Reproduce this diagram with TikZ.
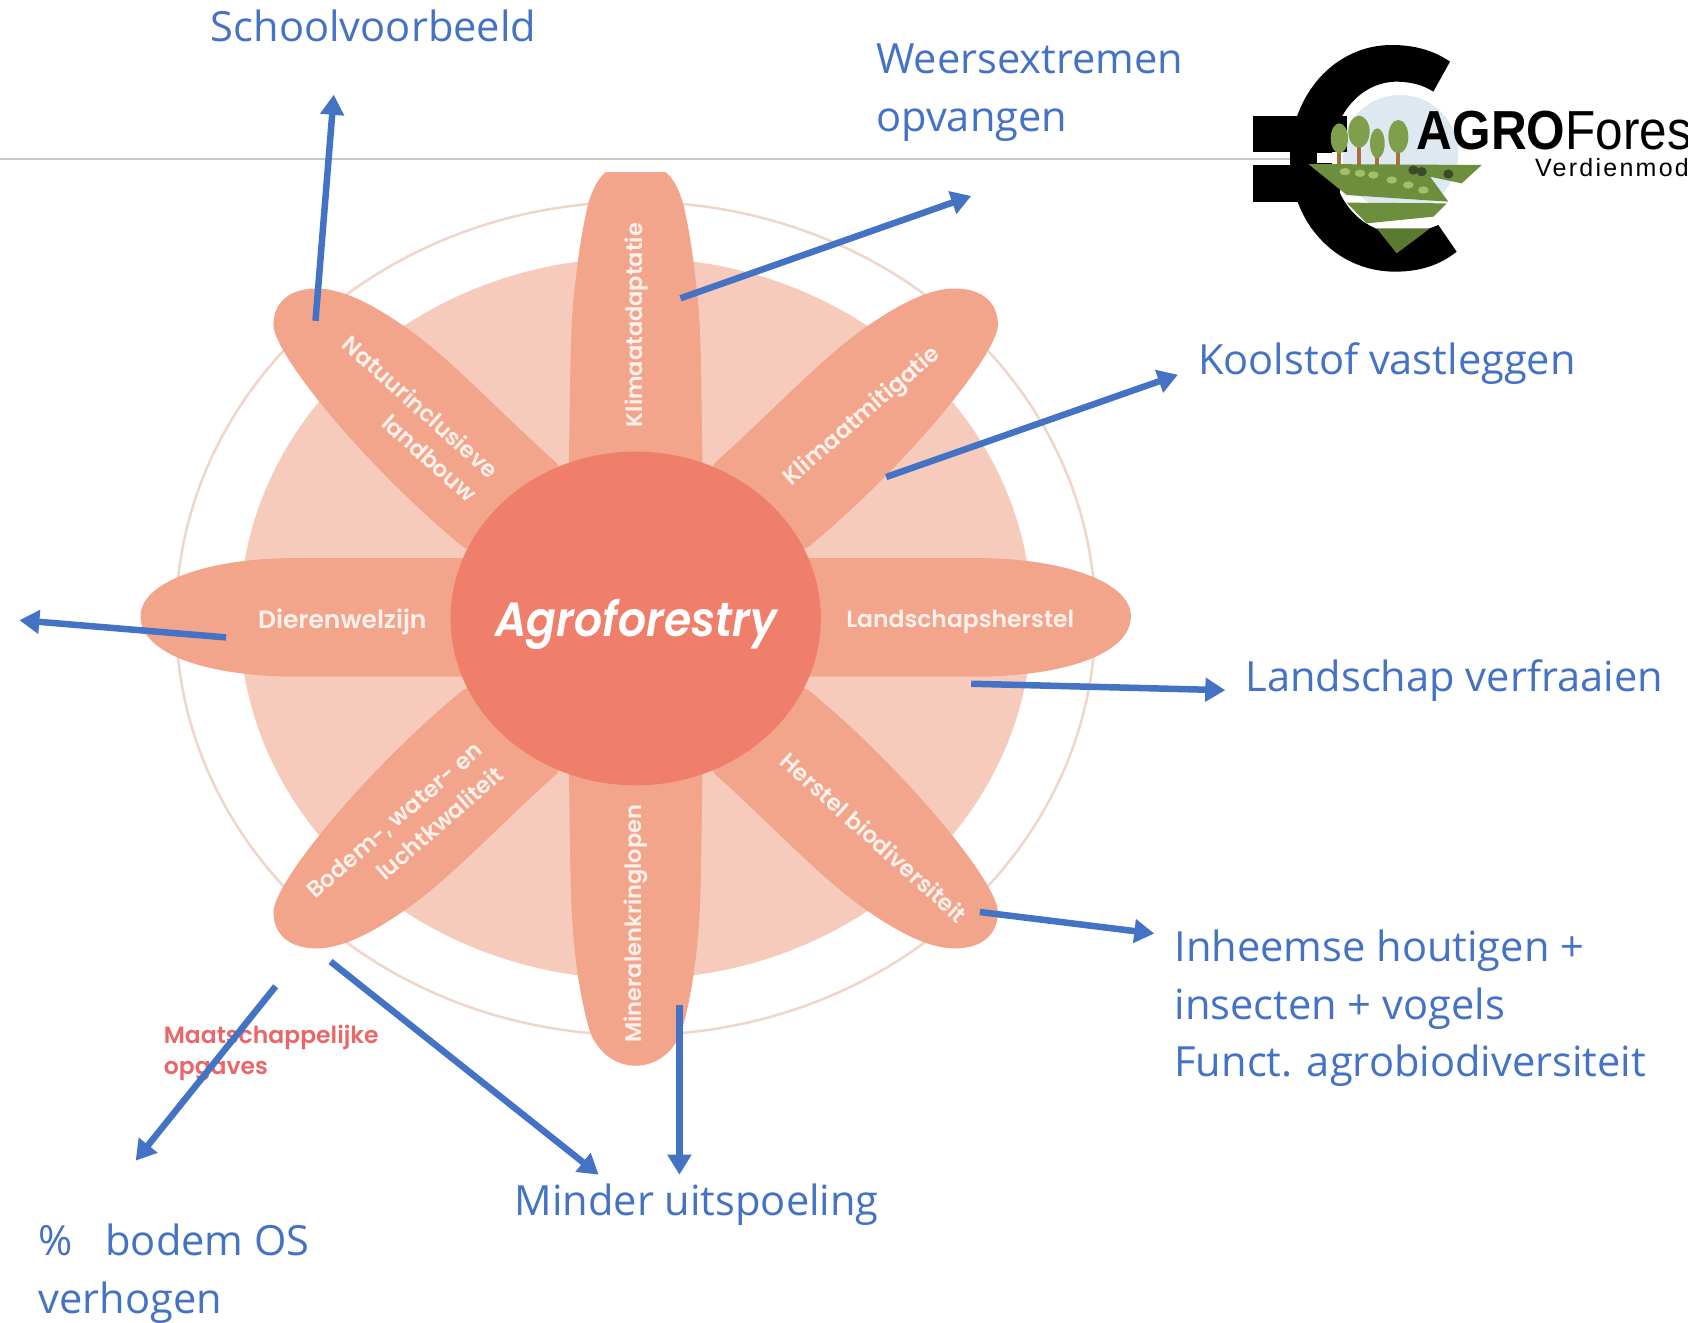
\documentclass[tikz,border=0pt]{standalone}
\usepackage{fontspec}
\usetikzlibrary{arrows.meta}
\setmainfont{Open Sans}
\newfontfamily\petalfont[UprightFont=* SemiBold,ItalicFont=* SemiBold Italic]{Poppins}
\newfontfamily\logofont{Liberation Sans}
\definecolor{lblblue}{HTML}{4472C4}
\definecolor{arrowblue}{HTML}{4472C4}
\definecolor{discpale}{HTML}{F6CBBB}
\definecolor{ringpale}{HTML}{F0D5CB}
\definecolor{petalsalmon}{HTML}{F3A58C}
\definecolor{hubsalmon}{HTML}{EF7E6B}
\definecolor{maatred}{HTML}{E8686A}
\definecolor{skypale}{HTML}{DDE8F1}
\definecolor{treegreen}{HTML}{7F9F4C}
\definecolor{trunkbrown}{HTML}{AC6D3E}
\definecolor{landgreen}{HTML}{6C8E3D}
\definecolor{shrubgreen}{HTML}{A3BF68}
\definecolor{darkshrub}{HTML}{3D4A2A}
\definecolor{petalwhite}{HTML}{FDF1EC}
\tikzset{
  arrowline/.style={draw=arrowblue,line width=6.5pt,-{Triangle[length=20pt,width=23pt]}},
  lbl/.style={text=lblblue,font=\fontsize{41.6}{57.6}\selectfont,inner sep=0pt,outer sep=0pt,align=left},
  petaltext/.style={text=petalwhite,font=\petalfont\fontsize{23}{32}\selectfont,inner sep=0pt,align=right},
  vpetaltext/.style={petaltext,font=\petalfont\fontsize{22.5}{30}\selectfont},
  hpetaltext/.style={petaltext,font=\petalfont\fontsize{23.5}{30}\selectfont},
}
\newcommand\diagonalpetal{(-73.5,-144.5) .. controls (-130,-195) and (-175,-245) .. (-219.5,-274.5) .. controls (-250,-295) and (-275,-306.5) .. (-296.5,-306.5) .. controls (-320,-306.5) and (-336.5,-295) .. (-336.5,-272.5) .. controls (-336,-245) and (-250,-140) .. (-160.5,-66.5) -- (0,0) -- cycle}
\newcommand\sidepetal{(0,-56) -- (-324,-56) .. controls (-395,-55) and (-460,-35) .. (-460,-2) .. controls (-460,32) and (-400,56) .. (-300,54) -- (0,54) -- cycle}
\begin{document}
\begin{tikzpicture}[x=1pt,y=-1pt]
\useasboundingbox (0,0) rectangle (1688,1322);
\fill[white] (0,0) rectangle (1688,1322);
\draw[color=black!22,line width=2pt] (0,159) -- (1290,159);
\begin{scope}[scale=1.0765]
  \fill[discpale] (590.5,574.5) ellipse [x radius=368,y radius=335];
  \draw[ringpale,line width=2.5pt] (590.5,574.5) ellipse [x radius=427,y radius=387];
  \foreach \sx/\sy in {1/1,-1/1,1/-1,-1/-1}{
    \fill[petalsalmon,shift={(590.5,574.5)},xscale=\sx,yscale=\sy] \diagonalpetal;
  }
  \foreach \sx in {1,-1}{
    \fill[petalsalmon,shift={(590.5,574.5)},xscale=\sx] \sidepetal;
  }
  \begin{scope}[shift={(590.5,574.5)}]
    \fill[petalsalmon] (-62,0) -- (-62,-147) .. controls (-61,-200) and (-61,-240) .. (-59.5,-271.5) .. controls (-58,-300) and (-55,-320) .. (-53.5,-333) .. controls (-51,-352) and (-48,-368) .. (-45.5,-379.5) .. controls (-42,-395) and (-36,-408) .. (-28,-414.5) -- (28,-414.5) .. controls (36,-408) and (42,-395) .. (45.5,-379.5) .. controls (48,-368) and (51,-352) .. (53.5,-333) .. controls (55,-320) and (58,-300) .. (59.5,-271.5) .. controls (61,-240) and (61,-200) .. (62,-147) -- (62,0) -- cycle;
    \fill[petalsalmon] (-62,0) -- (-62,147) .. controls (-61,200) and (-61,240) .. (-59.5,271.5) .. controls (-57,320) and (-50,360) .. (-42,385) .. controls (-33,407) and (-15,415.5) .. (0,415.5) .. controls (15,415.5) and (33,407) .. (42,385) .. controls (50,360) and (57,320) .. (59.5,271.5) .. controls (61,240) and (61,200) .. (62,147) -- (62,0) -- cycle;
  \end{scope}
  \fill[hubsalmon] (590.5,574.5) ellipse [x radius=172,y radius=155];
  \node[anchor=base,text=white,inner sep=0pt,font=\petalfont\itshape\fontsize{48}{50}\selectfont] (hub) at (591,591) {\scalebox{0.92}[1]{Agroforestry}};
  \node[vpetaltext,rotate=90] (klimaatadaptatie) at (591,302) {Klimaatadaptatie};
  \node[petaltext,rotate=41] (klimaatmitigatie) at (801,387) {Klimaatmitigatie};
  \node[hpetaltext] (landschapsherstel) at (892,578) {Landschapsherstel};
  \node[petaltext,rotate=-42] (herstel) at (812,778) {Herstel biodiversiteit};
  \node[vpetaltext,rotate=90] (mineralen) at (591,858) {Mineralenkringlopen};
  \node[petaltext,rotate=41] (bodem) at (376,773) {Bodem-, water- en\\luchtkwaliteit};
  \node[hpetaltext,font=\petalfont\fontsize{25}{30}\selectfont] (dierenwelzijn) at (318,578) {Dierenwelzijn};
  \node[petaltext,rotate=-42] (natuur) at (381,389) {Natuurinclusieve\\landbouw};
  \node[anchor=north west,text=maatred,inner sep=0pt,align=left,font=\petalfont\fontsize{23.5}{31}\selectfont] (maat) at (152,952) {Maatschappelijke\\opgaves};

  \coordinate (a1s) at (293,298); \coordinate (a1e) at (310,88);
  \coordinate (a2s) at (632,277); \coordinate (a2e) at (902,182);
  \coordinate (a3s) at (823,443); \coordinate (a3e) at (1094,348);
  \coordinate (a4s) at (902,635); \coordinate (a4e) at (1138,641);
  \coordinate (a5s) at (910,847); \coordinate (a5e) at (1072,867);
  \coordinate (a6s) at (631,933); \coordinate (a6e) at (631,1091);
  \coordinate (a7s) at (307,893); \coordinate (a7e) at (556,1091);
  \coordinate (a8s) at (256,916); \coordinate (a8e) at (126,1078);
  \coordinate (a9s) at (210,592); \coordinate (a9e) at (18,576);
  \foreach \n in {1,...,9}{ \draw[arrowline] (a\n s) -- (a\n e); }

  \node[lbl,anchor=base west] (school) at (196,39) {Schoolvoorbeeld};
  \node[lbl,anchor=north west] (weer) at (814,41) {Weersextremen\\opvangen};
  \node[lbl,anchor=base west] (kool) at (1113,348) {Koolstof vastleggen};
  \node[lbl,anchor=base west] (land) at (1157,642) {Landschap verfraaien};
  \node[lbl,anchor=north west] (inh) at (1091,864) {Inheemse houtigen +\\insecten + vogels\\Funct. agrobiodiversiteit};
  \node[lbl,anchor=base west] (minder) at (478,1129) {Minder uitspoeling};
  \node[lbl,anchor=north west] (pct) at (36,1137) {\%\ \ \ bodem OS\\verhogen};
\end{scope}
% logo, in crop coordinates
\begin{scope}[shift={(1200,20)},scale=1/3]
  \fill[skypale] (600,400) circle (175);
  \fill[black] (160,287) rectangle (440,395);
  \fill[black] (160,435) rectangle (420,545);
  \fill[black] (750,125) .. controls (700,90) and (640,75) .. (575,75) .. controls (400,75) and (270,230) .. (270,415) .. controls (270,610) and (410,755) .. (585,755) .. controls (660,755) and (720,735) .. (770,695) -- (715,615) .. controls (680,630) and (640,640) .. (600,640) .. controls (480,640) and (395,530) .. (395,410) .. controls (395,290) and (480,185) .. (590,185) .. controls (630,185) and (670,195) .. (700,215) -- cycle;
  \fill[white] (160,398) rectangle (245,435);
  \fill[white] (350,400) rectangle (430,430);
  \draw[color=black!22,line width=2pt] (160,417) -- (245,417);
  \foreach \tx/\ty/\trx/\try in {418/355/26/45,477/335/32/48,532/370/22/45,595/350/30/50}{
    \fill[trunkbrown] (\tx-6,\ty) rectangle (\tx+6,440);
    \fill[treegreen] (\tx,\ty) ellipse [x radius=\trx,y radius=\try];
  }
  \fill[landgreen] (325,432) -- (845,435) -- (785,490) -- (690,470) -- (745,545) -- (440,525) -- cycle;
  \fill[landgreen] (440,548) -- (740,550) -- (700,590) -- (500,610) -- cycle;
  \fill[landgreen!85!black] (530,625) -- (690,625) -- (590,700) -- cycle;
  \foreach \kx/\ky in {435/455,480/460,520/465,575/480,625/495,670/510}{
    \fill[shrubgreen] (\kx,\ky) ellipse [x radius=16,y radius=11];
  }
  \foreach \kx/\ky in {640/450,665/455,745/462}{
    \fill[darkshrub] (\kx,\ky) ellipse [x radius=15,y radius=14];
  }
  \node[anchor=base west,inner sep=0pt,font=\logofont\fontsize{55}{55}\selectfont] (logoname) at (650,388) {\scalebox{0.9}[1]{\textbf{AGRO}Fores}};
  \node[anchor=base west,inner sep=0pt,font=\logofont\addfontfeatures{LetterSpace=9}\fontsize{25}{25}\selectfont] (logosub) at (1005,470) {Verdienmod};
\end{scope}
\end{tikzpicture}
\end{document}
